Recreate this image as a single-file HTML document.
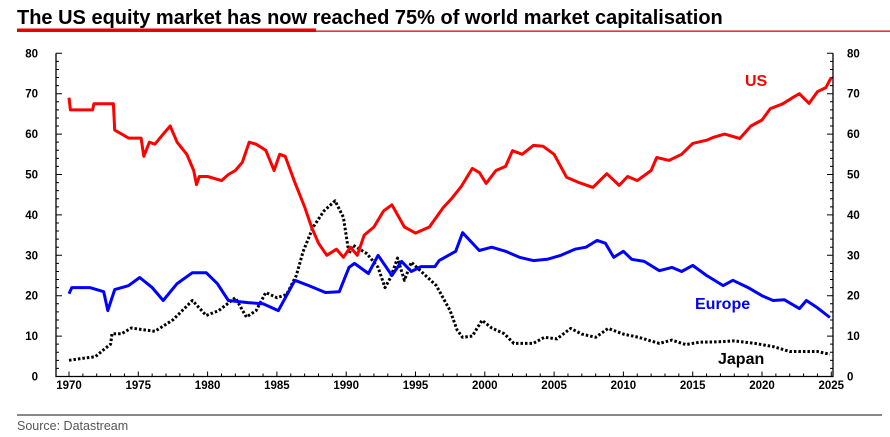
<!DOCTYPE html>
<html><head><meta charset="utf-8"><style>
body{margin:0;background:#fff;width:890px;height:432px;overflow:hidden;font-family:"Liberation Sans",sans-serif}
</style></head><body>
<svg id="c" width="890" height="432" xmlns="http://www.w3.org/2000/svg">
<text x="17" y="24" font-size="20" font-weight="bold" fill="#000">The US equity market has now reached 75% of world market capitalisation</text>
<rect x="17" y="28.5" width="299" height="3.5" fill="#e00"/>
<rect x="316" y="30.5" width="574" height="1.3" fill="#e00"/>
<rect x="17" y="414" width="865" height="2" fill="#888"/>
<text x="17" y="430" font-size="12.5" fill="#555">Source: Datastream</text>
<g id="axes"></g><g id="series"></g>
<text x="745" y="86" font-size="16" font-weight="bold" fill="#f00">US</text>
<text x="695" y="309" font-size="16" font-weight="bold" fill="#00f">Europe</text>
<text x="718" y="364" font-size="16" font-weight="bold" fill="#000">Japan</text>
</svg>
<script>
const yTicks=[0,10,20,30,40,50,60,70,80];
const xTicks=[1970,1975,1980,1985,1990,1995,2000,2005,2010,2015,2020,2025];
const usYears=[1970,1970.1,1971.7,1971.8,1973.2,1973.3,1974.3,1975.2,1975.4,1975.8,1976.2,1976.8,1977.3,1977.8,1978.5,1979,1979.2,1979.4,1980,1981,1981.5,1982,1982.5,1983,1983.5,1984.2,1984.8,1985.2,1985.6,1986.3,1987,1987.5,1988,1988.6,1989.3,1989.8,1990.3,1990.8,1991.3,1992,1992.7,1993.3,1994.2,1995,1996,1997,1997.6,1998.3,1999.1,1999.6,2000.1,2000.8,2001.5,2002,2002.7,2003.5,2004.2,2005,2005.9,2006.8,2007.8,2008.8,2009.7,2010.3,2011,2012,2012.4,2013.3,2014.2,2015,2016,2016.5,2017.3,2018.4,2019.2,2020,2020.6,2021.5,2022.2,2022.7,2023.4,2024,2024.6,2025];
const usVals=[69,66,66,67.5,67.5,61,59,59,54.5,58,57.5,60,62,58,55,51,47.5,49.5,49.5,48.5,50,51,53,58,57.5,56,51,55,54.5,48,42,37,33,30,31.5,29.5,32,30,35,37,41,42.5,37,35.5,37,41.8,44,47,51.5,50.5,47.8,51,52,55.9,55,57.2,57,55,49.3,48,46.8,50.2,47.3,49.5,48.5,51,54.2,53.5,55,57.7,58.5,59.2,60,58.9,62,63.5,66.3,67.5,69,70,67.6,70.5,71.5,74];
const euYears=[1970,1970.2,1971.5,1972.5,1972.8,1973.3,1974.3,1975.1,1976,1976.8,1977.8,1978.9,1979.9,1980.7,1981.5,1982.9,1984,1985.1,1986.3,1987.3,1988.5,1989.5,1990.2,1990.6,1991.6,1992.3,1993.3,1994,1994.7,1995.4,1996.4,1996.7,1997.9,1998.4,1999.6,2000.5,2001.5,2002.5,2003.5,2004.5,2005.5,2006.5,2007.3,2008.1,2008.7,2009.3,2010,2010.6,2011.5,2012.6,2013.5,2014.2,2015,2016,2017.2,2017.9,2019,2020,2020.8,2021.6,2022.7,2023.2,2024,2024.9];
const euVals=[20.5,22,22,21,16.3,21.5,22.5,24.5,22,18.8,23,25.7,25.7,23,18.8,18.3,18,16.3,23.8,22.5,20.8,21,27,28,25.5,30,25,28.5,26,27.2,27.2,28.7,31,35.6,31.2,32,31,29.5,28.7,29,30,31.5,32,33.7,33,29.5,31,29,28.5,26.2,27,26,27.5,25,22.5,23.8,22,20,18.8,19,16.8,18.8,17,14.6];
const jpYears=[1970,1971,1971.9,1972.6,1973,1973.1,1973.8,1974.5,1975.5,1976.2,1977.5,1978.9,1979.9,1980.8,1982,1982.8,1983.5,1984.2,1985,1985.7,1986.4,1986.9,1987.6,1988.4,1989.2,1989.8,1990.2,1990.5,1991.5,1992.3,1992.8,1993.2,1993.7,1994.2,1994.7,1995.6,1996.5,1997.5,1998,1998.4,1999.1,1999.8,2000.5,2001.4,2002.1,2003.5,2004.3,2005.2,2006.2,2007,2008,2008.9,2010,2011.1,2012.6,2013.5,2014.5,2015.5,2016.9,2018,2019.5,2020.8,2022,2023,2024,2024.9];
const jpVals=[4,4.5,4.9,6.9,8,10.6,10.6,12,11.5,11.2,14,18.8,15.1,16.3,19.5,14.7,16.3,20.8,19.5,20.3,25,31,36.9,41,43.5,39.4,30.4,32.5,30.4,27,22,24.5,29.3,23.8,28.3,25.4,22.5,16.3,11.5,9.7,10,13.9,12,10.6,8.2,8.2,9.7,9.3,11.9,10.5,9.7,11.9,10.5,9.7,8.2,9,7.9,8.5,8.6,8.8,8.2,7.4,6.2,6.2,6.2,5.5];
const NS='http://www.w3.org/2000/svg';
const X0=56,X1=833,Y0=376.5,YT=53.3;
const xs=y=>69+(y-1970)*13.86;
const ys=v=>Y0-(v/80)*(Y0-YT);
function mk(t,a){const e=document.createElementNS(NS,t);for(const k in a)e.setAttribute(k,a[k]);return e;}
const ax=document.getElementById('axes');
const frame=mk('path',{d:`M${X0},${YT} V${Y0} H${X1} V${YT}`,fill:'none',stroke:'#000','stroke-width':1.3});


ax.appendChild(frame);
let tk='';
for(let v=0;v<=80;v+=2){const y=ys(v);const L=v%10==0?6:3;tk+=`M${X0},${y}h${L}M${X1},${y}h${-L}`;}
for(let yr=1970;yr<=2025;yr++){const x=xs(yr);tk+=`M${x},${Y0}v${yr%5==0?-5:-3}`;}
const tp=mk('path',{d:tk,stroke:'#000','stroke-width':1});


ax.appendChild(tp);
yTicks.forEach(v=>{
 const l=mk('text',{x:38,y:ys(v)+4,'text-anchor':'end','font-size':11.5,'font-weight':'bold'});l.textContent=v;
 
 
 ax.appendChild(l);
 const r=mk('text',{x:847,y:ys(v)+4,'font-size':11.5,'font-weight':'bold'});r.textContent=v;
 
 
 ax.appendChild(r);
});
xTicks.forEach(yr=>{
 const t=mk('text',{x:xs(yr),y:389,'text-anchor':'middle','font-size':11.5,'font-weight':'bold'});t.textContent=yr;
 
 
 ax.appendChild(t);
});
const sg=document.getElementById('series');
function line(yrs,vals,col,name,dash){
 const d=yrs.map((y,i)=>(i?'L':'M')+xs(y).toFixed(1)+','+ys(vals[i]).toFixed(1)).join('');
 const a={d,fill:'none',stroke:col,'stroke-width':3,'stroke-linejoin':'round'};
 if(dash){a['stroke-dasharray']='2.5,2';a['stroke-width']=3;}
 const p=mk('path',a);
 
 
 sg.appendChild(p);
}
line(jpYears,jpVals,'#000','series-japan',true);
line(euYears,euVals,'#00f','series-europe',false);
line(usYears,usVals,'#f00','series-us',false);
</script>
</body></html>
